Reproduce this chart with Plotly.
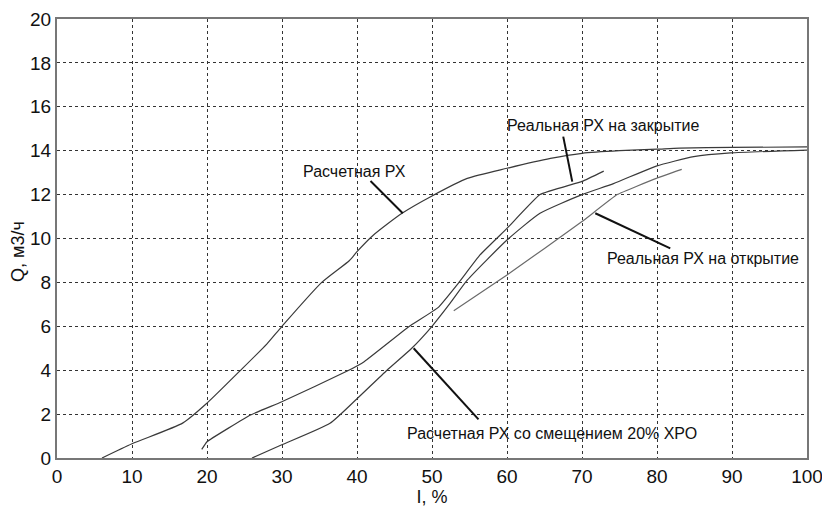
import plotly.graph_objects as go

# Расчетная РХ
calc_x = [6.0, 10, 16.8, 20, 24.4, 28, 30, 35.3, 39, 40, 42.2, 46, 50, 54.7, 60, 65.8, 70, 75, 80, 83, 90, 100]
calc_y = [0, 0.65, 1.6, 2.5, 3.97, 5.2, 6.0, 8.0, 9.0, 9.4, 10.16, 11.15, 11.94, 12.74, 13.2, 13.65, 13.88, 14.0, 14.07, 14.12, 14.15, 14.17]

# Реальная РХ на закрытие
close_x = [19.3, 20, 25.8, 29.9, 38.7, 41, 46.9, 50.8, 53.5, 56.4, 60, 64.4, 70, 72.9]
close_y = [0.39, 0.74, 1.96, 2.55, 3.96, 4.4, 5.98, 6.85, 7.96, 9.25, 10.46, 12.0, 12.6, 13.07]

# Расчетная РХ со смещением 20% ХРО
shift_x = [26, 29.9, 36.4, 40, 44, 47.3, 50, 52.4, 54.7, 60, 64.4, 70, 74.2, 79.9, 84.9, 89.8, 100]
shift_y = [0, 0.59, 1.58, 2.7, 4.0, 5.0, 6.0, 7.04, 8.1, 9.93, 11.15, 12.0, 12.5, 13.3, 13.73, 13.9, 14.03]

# Реальная РХ на открытие
open_x = [52.9, 60, 70, 74.7, 79.9, 83.3]
open_y = [6.71, 8.34, 10.77, 12.0, 12.74, 13.15]

x_ticks = [0, 10, 20, 30, 40, 50, 60, 70, 80, 90, 100]
y_ticks = [0, 2, 4, 6, 8, 10, 12, 14, 16, 18, 20]

x_title = "I, %"
y_title = "Q, м3/ч"

labels = ["Расчетная РХ", "Реальная РХ на закрытие", "Реальная РХ на открытие",
          "Расчетная РХ со смещением 20% ХРО"]
label_x = [39.6, 72.8, 86.1, 66.0]
label_y = [13.04, 15.17, 9.1, 1.12]
leader_x0 = [41.8, 67.5, 71.77, 47.55]
leader_y0 = [12.62, 14.64, 11.15, 5.0]
leader_x1 = [46.1, 68.7, 81.77, 56.2]
leader_y1 = [11.15, 12.59, 9.55, 1.76]

FONT = "Liberation Sans, Arial, sans-serif"

fig = go.Figure()
series = [(calc_x, calc_y, "#3a3a3a", 0.6), (close_x, close_y, "#3a3a3a", 0.3),
          (shift_x, shift_y, "#3a3a3a", 0.5), (open_x, open_y, "#6a6a6a", 0.3)]
for xs, ys, c, sm in series:
    fig.add_trace(go.Scatter(x=xs, y=ys, mode="lines",
                             line=dict(color=c, width=1.2, shape="spline", smoothing=sm),
                             showlegend=False, hoverinfo="skip"))

for i, t in enumerate(labels):
    fig.add_annotation(x=label_x[i], y=label_y[i], text=t, showarrow=False,
                       font=dict(family=FONT, size=16, color="#111"), xanchor="center", yanchor="middle")
    fig.add_shape(type="line", x0=leader_x0[i], y0=leader_y0[i], x1=leader_x1[i], y1=leader_y1[i],
                  xref="x", yref="y", line=dict(color="#111", width=2))

# y-axis title as rotated text
fig.add_annotation(x=-0.053, y=0.47, xref="paper", yref="paper", text=y_title, textangle=-90,
                   showarrow=False, xanchor="center", yanchor="middle",
                   font=dict(family=FONT, size=18, color="#111"))

axis_common = dict(showgrid=True, gridcolor="#333", griddash="dot", gridwidth=1,
                   showline=True, linecolor="#777", linewidth=2, mirror=True,
                   zeroline=False, ticks="", ticklabeloverflow="allow", automargin=False,
                   tickfont=dict(family=FONT, size=19, color="#111"),
                   title_font=dict(family=FONT, size=18, color="#111"))

fig.update_xaxes(range=[0, 100], tickvals=x_ticks, title_text=x_title, title_standoff=4, **axis_common)
fig.update_yaxes(range=[0, 20], tickvals=y_ticks, **axis_common)

fig.update_layout(width=822, height=507, margin=dict(l=57, r=15, t=19, b=49),
                  plot_bgcolor="white", paper_bgcolor="white")

fig.write_html("out.html")
